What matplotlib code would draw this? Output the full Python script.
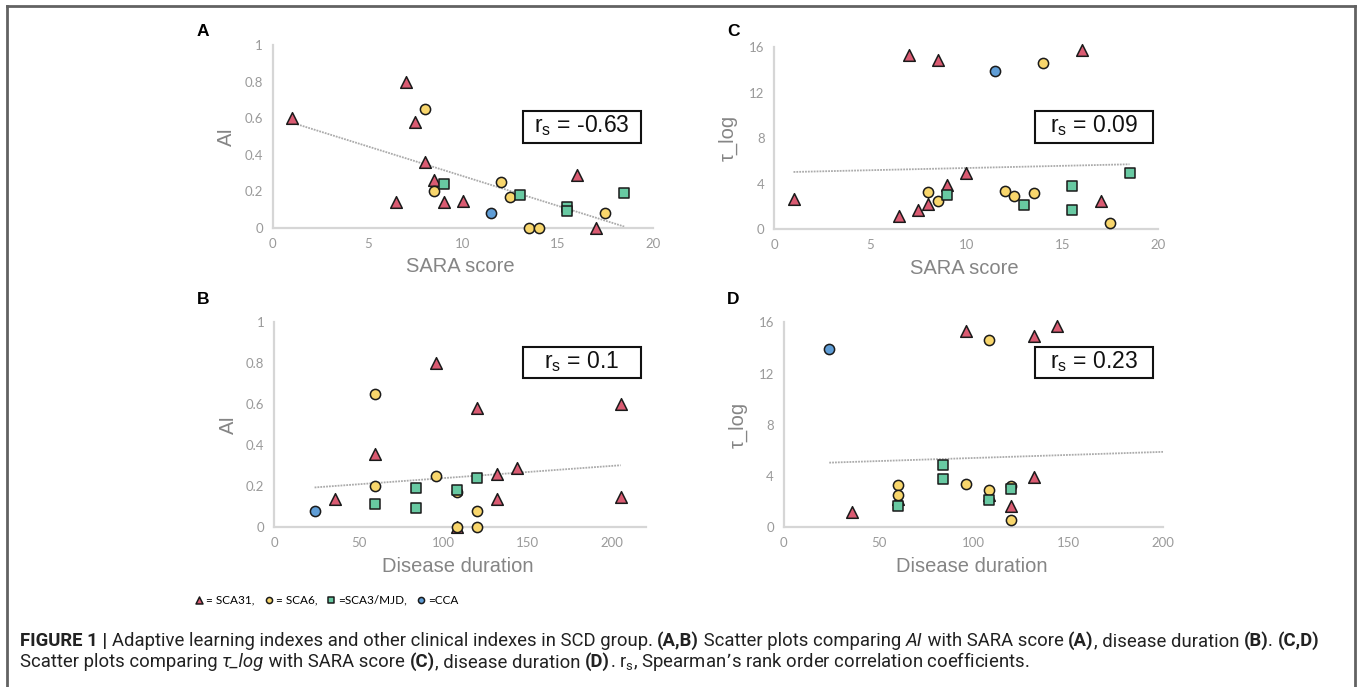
import numpy as np
import matplotlib as mpl
from matplotlib import pyplot as plt
from matplotlib.patches import Rectangle
from matplotlib.lines import Line2D

W, H = 1357, 687

# ---- data ----
# SCA31 (triangles)
sca31_sara = [1, 7, 7.5, 8, 8.5, 6.5, 9, 10, 16, 17]
sca31_dur = [205, 96, 120, 60, 132, 36, 132, 205, 144, 108]
sca31_ai = [0.60, 0.80, 0.58, 0.36, 0.26, 0.14, 0.14, 0.15, 0.29, 0.0]
sca31_tau = [2.7, 15.3, 1.7, 2.2, 14.9, 1.2, 3.9, 4.9, 15.7, 2.5]

# SCA6 (yellow circles)
sca6_sara = [8, 8.5, 12, 12.5, 13.5, 14, 17.5]
sca6_dur = [60, 60, 96, 108, 120, 108, 120]
sca6_ai = [0.65, 0.20, 0.25, 0.17, 0.0, 0.0, 0.08]
sca6_tau = [3.3, 2.5, 3.4, 2.9, 3.2, 14.6, 0.55]

# SCA3/MJD (squares)
sca3_sara = [9, 13, 15.5, 15.5, 18.5]
sca3_dur = [120, 108, 60, 84, 84]
sca3_ai = [0.24, 0.18, 0.115, 0.095, 0.19]
sca3_tau = [3.0, 2.1, 1.7, 3.8, 4.9]

# CCA (blue circle)
cca_sara = [11.5]
cca_dur = [24]
cca_ai = [0.08]
cca_tau = [13.9]

rs_values = ["-0.63", "0.1", "0.09", "0.23"]

groups = [
    (sca31_sara, sca31_dur, sca31_ai, sca31_tau, '^', '#da5b72', 70, '= SCA31,'),
    (sca6_sara, sca6_dur, sca6_ai, sca6_tau, 'o', '#f8d66c', 54, '= SCA6,'),
    (sca3_sara, sca3_dur, sca3_ai, sca3_tau, 's', '#68c9a2', 52, '=SCA3/MJD,'),
    (cca_sara, cca_dur, cca_ai, cca_tau, 'o', '#5f9dd6', 54, '=CCA'),
]

fig = plt.figure(figsize=(W / 100, H / 100), dpi=100)
fig.patch.set_facecolor('white')


def px_axes(x0, x1, y0, y1):
    # pixel positions of the axis ends (x0 left, x1 right, y0 bottom, y1 top)
    return fig.add_axes([x0 / W, 1 - y0 / H, (x1 - x0) / W, (y0 - y1) / H])


def fx(px):
    return px / W


def fy(py):
    return 1 - py / H


tick_font = ['Lato', 'DejaVu Sans']
label_font = ['Liberation Sans', 'DejaVu Sans']

panels = [
    # letter, x index, y index, axes box, xlim, ylim, yticks, xticks, xlabel, ylabel
    ('A', 0, 2, (272.7, 652.7, 228, 45), (0, 20), (0, 1), np.arange(0, 1.01, 0.2), [0, 5, 10, 15, 20], 'SARA score', 'AI'),
    ('B', 1, 2, (274, 646, 527.3, 322.3), (0, 220), (0, 1), np.arange(0, 1.01, 0.2), [0, 50, 100, 150, 200], 'Disease duration', 'AI'),
    ('C', 0, 3, (774.3, 1158.3, 229.3, 47), (0, 20), (0, 16), [0, 4, 8, 12, 16], [0, 5, 10, 15, 20], 'SARA score', 'τ_log'),
    ('D', 1, 3, (783.7, 1163.3, 527.3, 322.3), (0, 200), (0, 16), [0, 4, 8, 12, 16], [0, 50, 100, 150, 200], 'Disease duration', 'τ_log'),
]

handles = []
for k, (letter, xi, yi, box, xlim, ylim, yt, xt, xlab, ylab) in enumerate(panels):
    ax = px_axes(*box)
    allx, ally = [], []
    for g in groups:
        x = np.array(g[xi], dtype=float)
        y = np.array(g[yi], dtype=float)
        allx += list(x)
        ally += list(y)
        keep = x <= xlim[1]   # points past the axis end are not shown
        sc = ax.scatter(x[keep], y[keep], marker=g[4], s=g[6], facecolor=g[5],
                        edgecolor='#1a1a1a', linewidth=1.1, zorder=3, clip_on=False)
        if k == 0:
            handles.append((sc, g[7]))
    # linear trend line over the data range
    allx = np.array(allx)
    ally = np.array(ally)
    p = np.polyfit(allx, ally, 1)
    tx = np.array([allx.min(), allx.max()])
    ax.plot(tx, np.polyval(p, tx), color='#ababab', lw=1.3, ls=(0, (1, 0.6)), zorder=2)

    ax.set_xlim(*xlim)
    ax.set_ylim(*ylim)
    ax.set_xticks(xt)
    ax.set_yticks(yt)
    ax.xaxis.set_major_formatter(mpl.ticker.FuncFormatter(lambda v, pos: f"{v:g}"))
    ax.yaxis.set_major_formatter(mpl.ticker.FuncFormatter(lambda v, pos: f"{v:g}"))
    ax.tick_params(length=0, colors='#9a9a9a', labelsize=9.5, pad=7)
    for lab in ax.get_xticklabels() + ax.get_yticklabels():
        lab.set_family(tick_font)
    for side in ['top', 'right']:
        ax.spines[side].set_visible(False)
    for side in ['left', 'bottom']:
        ax.spines[side].set_color('#d6d6d6')
        ax.spines[side].set_linewidth(1.6)
    ax.patch.set_alpha(0)

    x0, x1, y0, y1 = box
    # axis titles
    fig.text(fx((x0 + x1) / 2 - 2), fy(y0 + 39), xlab, ha='center', va='center',
             fontsize=14.5, color='#858585', family=label_font)
    fig.text(fx(x0 - 46), fy((y0 + y1) / 2), ylab, ha='center', va='center',
             rotation=90, fontsize=14.5, color='#858585', family=label_font)
    # panel letter
    lx = 203 if k < 2 else 733
    ly = 32 if k in (0, 2) else 300
    fig.text(fx(lx), fy(ly), letter, ha='center', va='center', fontsize=12.5,
             fontweight='bold', family=['Liberation Sans', 'DejaVu Sans'])

    # r_s box
    bx = 523.3 if k < 2 else 1035
    by = 111 if k in (0, 2) else 346.7
    fig.add_artist(Rectangle((fx(bx), fy(by + 31.7)), 117.7 / W, 31.7 / H,
                             transform=fig.transFigure, facecolor='white',
                             edgecolor='#111111', lw=1.5))
    fig.text(fx(bx + 58.8), fy(by + 15), r"r$_\mathregular{s}$ = " + rs_values[k],
             ha='center', va='center', fontsize=16.5, color='#111111', family=label_font)

# group key under the panels
fig.legend([h for h, _ in handles], [l for _, l in handles], loc='center left',
           bbox_to_anchor=(fx(186), fy(600)), ncol=4, frameon=False, markerscale=0.6,
           handletextpad=0.0, columnspacing=0.6, handlelength=1.2, borderpad=0,
           prop={'family': ['Lato', 'DejaVu Sans'], 'size': 8.5})

# figure frame (open at the bottom)
frame_kw = dict(transform=fig.transFigure, color='#626262', lw=2.0)
fig.add_artist(Line2D([fx(7), fx(1355)], [fy(6), fy(6)], **frame_kw))
fig.add_artist(Line2D([fx(7), fx(7)], [fy(6), 0], **frame_kw))
fig.add_artist(Line2D([fx(1355), fx(1355)], [fy(6), 0], **frame_kw))

# caption with mixed bold/italic runs
cap_font = ['Roboto', 'Liberation Sans', 'DejaVu Sans']
line1 = [("FIGURE 1 | ", 'bold', 'normal'),
         ("Adaptive learning indexes and other clinical indexes in SCD group. ", 'normal', 'normal'),
         ("(A,B)", 'bold', 'normal'),
         (" Scatter plots comparing ", 'normal', 'normal'),
         ("AI", 'normal', 'italic'),
         (" with SARA score ", 'normal', 'normal'),
         ("(A)", 'bold', 'normal'),
         (", disease duration ", 'normal', 'normal'),
         ("(B)", 'bold', 'normal'),
         (". ", 'normal', 'normal'),
         ("(C,D)", 'bold', 'normal')]
line2 = [("Scatter plots comparing ", 'normal', 'normal'),
         ("τ_log", 'normal', 'italic'),
         (" with SARA score ", 'normal', 'normal'),
         ("(C)", 'bold', 'normal'),
         (", disease duration ", 'normal', 'normal'),
         ("(D)", 'bold', 'normal'),
         (". r$_\\mathregular{s}$, Spearman\u2019s rank order correlation coefficients.", 'normal', 'normal')]

renderer = fig.canvas.get_renderer()


def draw_runs(runs, x, y, size):
    texts = []
    for s, weight, style in runs:
        t = fig.text(x, y, s, fontsize=size, fontweight=weight, fontstyle=style,
                     family=cap_font, color='#222222', va='baseline', ha='left')
        x += t.get_window_extent(renderer=renderer).width / W
        texts.append(t)
    return texts, x


# fit the first line to the width it has in the reference
trial, end = draw_runs(line1, fx(20), fy(647), 11)
width = (end - fx(20)) * W
for t in trial:
    t.remove()
cap_size = 11 * 1291 / width
draw_runs(line1, fx(20), fy(646), cap_size)
draw_runs(line2, fx(20), fy(667), cap_size)

fig.savefig('out.png', dpi=100, facecolor='white')
